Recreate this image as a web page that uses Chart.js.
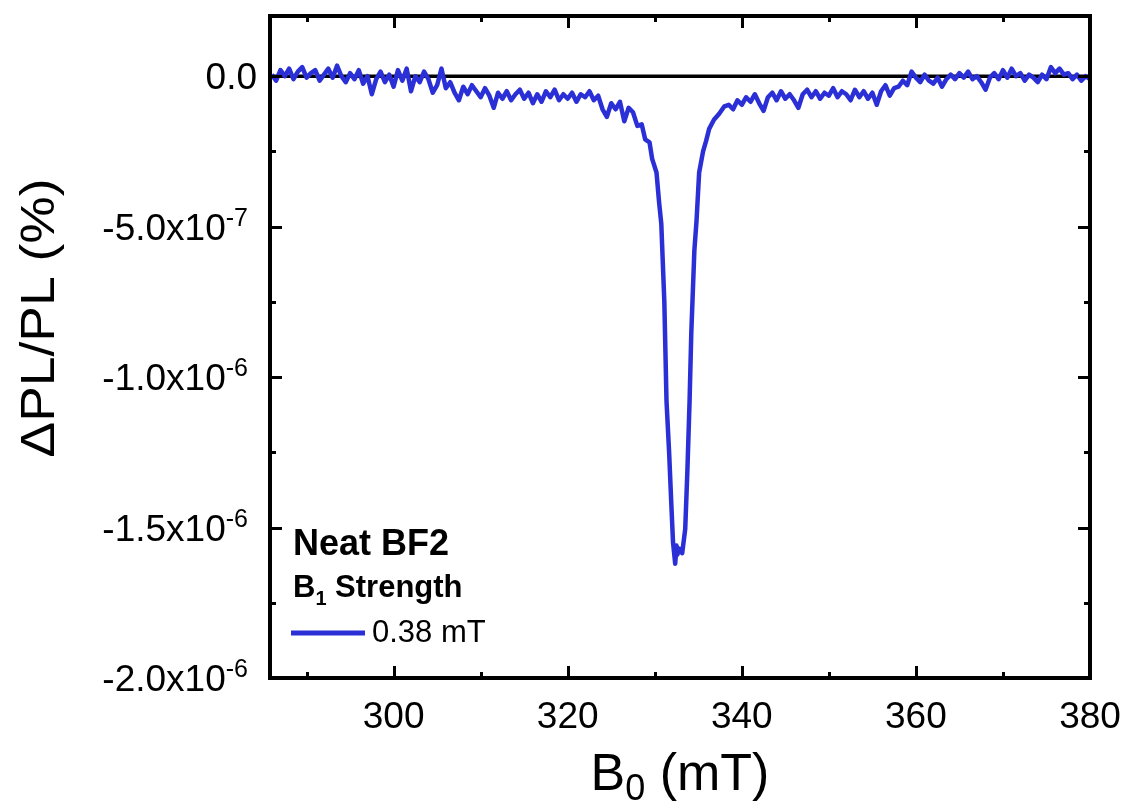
<!DOCTYPE html>
<html>
<head>
<meta charset="utf-8">
<script src="https://cdn.jsdelivr.net/npm/chart.js@4.4.1/dist/chart.umd.min.js"></script>
<style>
  html, body { margin: 0; padding: 0; background: #fff; }
  #wrap { width: 1128px; height: 811px; }
</style>
</head>
<body>
<div id="wrap"><canvas id="odmr"></canvas></div>
<script>
// B0 field (mT)
const fieldMT = [
  286.0, 286.5, 287.0, 287.5, 288.0, 288.5, 289.0, 289.5, 290.0, 290.5,
  291.0, 291.5, 292.0, 292.5, 293.0, 293.5, 294.0, 294.5, 295.0, 295.5,
  296.0, 296.5, 297.0, 297.5, 298.0, 298.5, 299.0, 299.5, 300.0, 300.5,
  301.0, 301.5, 302.0, 302.5, 303.0, 303.5, 304.0, 304.5, 305.0, 305.5,
  306.0, 306.5, 307.0, 307.5, 308.0, 308.5, 309.0, 309.5, 310.0, 310.5,
  311.0, 311.5, 312.0, 312.5, 313.0, 313.5, 314.0, 314.5, 315.0, 315.5,
  316.0, 316.5, 317.0, 317.5, 318.0, 318.5, 319.0, 319.5, 320.0, 320.5,
  321.0, 321.5, 322.0, 322.5, 323.0, 323.5, 324.0, 324.5, 325.0, 325.5,
  326.0, 326.5, 327.0, 327.5, 328.0,
  328.5, 328.9, 329.4, 329.7, 330.2, 330.5, 330.75, 331.1, 331.35, 331.65,
  331.9, 332.1, 332.35, 332.5, 332.6, 332.8, 333.15, 333.5, 333.75, 334.0,
  334.2, 334.55, 334.8, 335.1, 335.55, 335.9, 336.25, 336.8, 337.4,
  338.0, 338.5, 339.0, 339.5, 340.0, 340.5, 341.0, 341.5, 342.0, 342.5,
  343.0, 343.5, 344.0, 344.5, 345.0, 345.5, 346.0, 346.5, 347.0, 347.5,
  348.0, 348.5, 349.0, 349.5, 350.0, 350.5, 351.0, 351.5, 352.0, 352.5,
  353.0, 353.5, 354.0, 354.5, 355.0, 355.5, 356.0, 356.5, 357.0, 357.5,
  358.0, 358.5, 359.0, 359.5, 360.0, 360.5, 361.0, 361.5, 362.0, 362.5,
  363.0, 363.5, 364.0, 364.5, 365.0, 365.5, 366.0, 366.5, 367.0, 367.5,
  368.0, 368.5, 369.0, 369.5, 370.0, 370.5, 371.0, 371.5, 372.0, 372.5,
  373.0, 373.5, 374.0, 374.5, 375.0, 375.5, 376.0, 376.5, 377.0, 377.5,
  378.0, 378.5, 379.0, 379.5, 380.0
];

// dPL/PL in units of 1e-7 %
const dplE7 = [
  0.05, -0.15, 0.2, 0.0, 0.25, -0.1, 0.15, 0.3, -0.05, 0.1,
  0.2, -0.15, 0.05, 0.25, -0.05, 0.35, 0.0, -0.2, 0.1, -0.1,
  0.2, -0.25, 0.0, -0.6, -0.1, 0.15, -0.2, 0.05, -0.35, 0.2,
  -0.15, 0.25, -0.5, 0.0, -0.2, 0.15, -0.1, -0.55, -0.3, 0.25,
  -0.4, -0.2, -0.55, -0.8, -0.35, -0.6, -0.3, -0.5, -0.7, -0.4,
  -0.65, -1.05, -0.55, -0.75, -0.5, -0.8, -0.6, -0.45, -0.75, -0.55,
  -0.9, -0.6, -0.85, -0.5, -0.7, -0.45, -0.8, -0.6, -0.75, -0.55,
  -0.85, -0.6, -0.7, -0.5, -0.8, -0.65, -1.1, -1.35, -0.9, -1.1,
  -0.85, -1.5, -1.05, -1.2, -1.65,
  -1.6, -2.1, -2.2, -2.75, -3.2, -4.2, -4.9, -7.5, -10.8, -12.5,
  -14.2, -15.5, -16.2, -15.6, -15.9, -15.7, -15.85, -15.05, -13.1, -10.8,
  -8.5, -5.8, -4.8, -3.2, -2.5, -2.15, -1.75, -1.45, -1.25,
  -1.0, -0.95, -1.1, -0.8, -0.95, -0.7, -0.85, -0.6, -0.9, -1.15,
  -0.7, -0.55, -0.8, -0.5, -0.75, -0.6, -0.8, -1.05, -0.6, -0.45,
  -0.7, -0.5, -0.75, -0.55, -0.65, -0.4, -0.7, -0.5, -0.6, -0.8,
  -0.45, -0.7, -0.5, -0.75, -0.55, -0.95, -0.5, -0.3, -0.65, -0.4,
  -0.35, -0.15, -0.3, 0.15, -0.05, -0.2, 0.05, -0.15, -0.25, -0.05,
  -0.35, -0.1, 0.05, -0.1, 0.1, -0.05, 0.15, -0.1, 0.0, -0.2,
  -0.45, -0.05, 0.1, -0.1, 0.2, -0.05, 0.25, 0.0, 0.1, -0.15,
  0.05, -0.05, -0.2, 0.05, -0.1, 0.3, 0.1, 0.25, 0.05, 0.1,
  -0.1, 0.05, -0.15, 0.0, -0.1
];

const xMajor = [300, 320, 340, 360, 380];
const xMinor = [290, 310, 330, 350, 370];
const yMajor = [0, -5e-7, -1e-6, -1.5e-6, -2e-6];
const yMinor = [-2.5e-7, -7.5e-7, -1.25e-6, -1.75e-6];
const yTickBase = ['0.0', '-5.0x10', '-1.0x10', '-1.5x10', '-2.0x10'];
const yTickExp = ['', '-7', '-6', '-6', '-6'];

const seriesName = '0.38 mT';
const legendTitle = 'Neat BF2';
const blue = '#2b2fd6';
const FONT = "Arial, 'Liberation Sans', sans-serif";

const trace = fieldMT.map((x, i) => ({ x: x, y: dplE7[i] * 1e-7 }));
const zeroLine = [{ x: 285.8, y: 0 }, { x: 380, y: 0 }];

const axesPlugin = {
  id: 'originAxes',
  afterDraw(chart) {
    const c = chart.ctx;
    const a = chart.chartArea;
    const xs = chart.scales.x, ys = chart.scales.y;
    c.save();
    c.strokeStyle = '#000';
    c.fillStyle = '#000';
    c.lineWidth = 4;
    c.strokeRect(a.left, a.top, a.right - a.left, a.bottom - a.top);

    c.lineWidth = 3;
    c.beginPath();
    const tick = (vals, len) => {
      vals.forEach(v => {
        const px = Math.round(xs.getPixelForValue(v)) + 0.5;
        c.moveTo(px, a.bottom); c.lineTo(px, a.bottom - len);
        c.moveTo(px, a.top); c.lineTo(px, a.top + len);
      });
    };
    const ytick = (vals, len) => {
      vals.forEach(v => {
        const py = Math.round(ys.getPixelForValue(v)) + 0.5;
        c.moveTo(a.left, py); c.lineTo(a.left + len, py);
        c.moveTo(a.right, py); c.lineTo(a.right - len, py);
      });
    };
    tick(xMajor, 12); tick(xMinor, 6);
    ytick(yMajor, 12); ytick(yMinor, 6);
    c.stroke();

    // x tick labels
    c.font = '37px ' + FONT;
    c.textAlign = 'center';
    c.textBaseline = 'alphabetic';
    xMajor.forEach(v => {
      c.fillText(String(v), xs.getPixelForValue(v), a.bottom + 50);
    });

    // y tick labels with superscript exponents
    yMajor.forEach((v, i) => {
      const py = ys.getPixelForValue(v) + 13;
      const right = yTickExp[i] ? a.left - 22 : a.left - 13;
      c.font = '25px ' + FONT;
      const ew = yTickExp[i] ? c.measureText(yTickExp[i]).width : 0;
      c.textAlign = 'right';
      if (yTickExp[i]) c.fillText(yTickExp[i], right, py - 14);
      c.font = '37px ' + FONT;
      c.fillText(yTickBase[i], right - ew, py);
    });

    // axis titles
    c.font = '49px ' + FONT;
    c.save();
    c.translate(54, 318);
    c.rotate(-Math.PI / 2);
    c.scale(1.09, 1);
    c.textAlign = 'center';
    c.fillText('\u0394PL/PL (%)', 0, 0);
    c.restore();

    c.textAlign = 'left';
    const xt1 = 'B', xt2 = '0', xt3 = ' (mT)';
    c.font = '52px ' + FONT;
    const w1 = c.measureText(xt1).width, w3 = c.measureText(xt3).width;
    c.font = '36px ' + FONT;
    const w2 = c.measureText(xt2).width;
    let x0 = (a.left + a.right) / 2 - (w1 + w2 + w3) / 2;
    const by = 790;
    c.font = '52px ' + FONT;
    c.fillText(xt1, x0, by);
    c.font = '36px ' + FONT;
    c.fillText(xt2, x0 + w1, by + 10);
    c.font = '52px ' + FONT;
    c.fillText(xt3, x0 + w1 + w2, by);

    // legend block
    c.font = 'bold 36px ' + FONT;
    c.fillText(legendTitle, 293, 555);
    c.font = 'bold 31px ' + FONT;
    c.fillText('B', 293, 597);
    const bw = c.measureText('B').width;
    c.font = 'bold 20px ' + FONT;
    c.fillText('1', 293 + bw, 605);
    const sw = c.measureText('1').width;
    c.font = 'bold 31px ' + FONT;
    c.fillText(' Strength', 293 + bw + sw, 597);
    c.strokeStyle = blue;
    c.lineWidth = 5;
    c.beginPath();
    c.moveTo(291, 633); c.lineTo(365, 633);
    c.stroke();
    c.font = '31px ' + FONT;
    c.fillText(seriesName, 372, 642);
    c.restore();
  }
};

new Chart(document.getElementById('odmr'), {
  type: 'line',
  data: {
    datasets: [
      {
        label: seriesName,
        data: trace,
        borderColor: blue,
        borderWidth: 4.5,
        borderJoinStyle: 'round',
        pointRadius: 0,
        tension: 0,
        order: 1
      },
      {
        label: 'zero',
        data: zeroLine,
        borderColor: '#000',
        borderWidth: 3.5,
        pointRadius: 0,
        order: 2
      }
    ]
  },
  options: {
    responsive: true,
    maintainAspectRatio: false,
    animation: false,
    layout: { padding: { left: 270, right: 38, top: 16, bottom: 133 } },
    plugins: { legend: { display: false }, tooltip: { enabled: false } },
    scales: {
      x: {
        type: 'linear', min: 285.8, max: 380,
        grid: { display: false }, border: { display: false },
        ticks: { display: false },
        afterFit: s => { s.height = 0; }
      },
      y: {
        type: 'linear', min: -2e-6, max: 2e-7,
        grid: { display: false }, border: { display: false },
        ticks: { display: false },
        afterFit: s => { s.width = 0; }
      }
    }
  },
  plugins: [axesPlugin]
});
</script>
</body>
</html>
